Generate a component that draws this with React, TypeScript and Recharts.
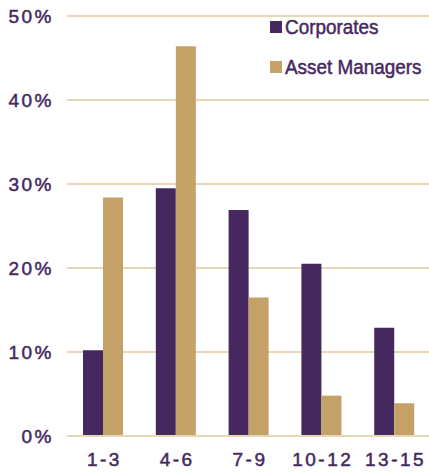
import React from "react";
import { BarChart, Bar, XAxis, YAxis, CartesianGrid } from "recharts";

const categories = ["1-3", "4-6", "7-9", "10-12", "13-15"];
const corporates = [10.2, 29.5, 26.9, 20.5, 12.9];
const assetManagers = [28.4, 46.4, 16.5, 4.8, 3.9];
const yTicks = [0, 10, 20, 30, 40, 50];

const data = categories.map((c, i) => ({
  name: c,
  corporates: corporates[i],
  assetManagers: assetManagers[i],
}));

const PURPLE = "#45295E";
const GOLD = "#C4A267";
const GRID = "#E6D8B4";
const FONT = "'Liberation Sans', Arial, sans-serif";

const YTick = (props: any) => {
  const { x, y, payload } = props;
  return (
    <text x={x} y={y} dy={7} textAnchor="end" fill={PURPLE} stroke={PURPLE} strokeWidth={0.5} fontSize={19} fontFamily={FONT} letterSpacing={2.5}>
      {payload.value + "%"}
    </text>
  );
};

const XTick = (props: any) => {
  const { x, y, payload } = props;
  return (
    <text x={x + 1} y={y} dy={28} textAnchor="middle" fill={PURPLE} stroke={PURPLE} strokeWidth={0.5} fontSize={19} fontFamily={FONT} letterSpacing={2.5}>
      {payload.value}
    </text>
  );
};

export default function App() {
  return (
    <div style={{ position: "fixed", left: 0, top: 0, width: 429, height: 473, overflow: "hidden", background: "#fff" }}>
      <BarChart
        width={431}
        height={473}
        data={data}
        margin={{ top: 16, right: 0, bottom: 0, left: 0 }}
        barCategoryGap="22%"
        barGap={0}
      >
        <CartesianGrid vertical={false} stroke={GRID} strokeWidth={2} />
        <XAxis dataKey="name" height={37} axisLine={{ stroke: GRID, strokeWidth: 2 }} tickLine={false} tickSize={0} tick={<XTick />} interval={0} />
        <YAxis
          width={67}
          domain={[0, 50]}
          ticks={yTicks}
          axisLine={false}
          tickLine={false}
          tickSize={0}
          tickMargin={13}
          tick={<YTick />}
        />
        <Bar dataKey="corporates" fill={PURPLE} isAnimationActive={false} />
        <Bar dataKey="assetManagers" fill={GOLD} isAnimationActive={false} />
      </BarChart>
      <div style={{ position: "absolute", left: 270, top: 15, fontFamily: FONT, fontSize: 21, color: PURPLE, whiteSpace: "nowrap", WebkitTextStroke: "0.5px " + PURPLE }}>
        <div style={{ display: "flex", alignItems: "center", height: 24 }}>
          <span style={{ width: 12, height: 12, background: PURPLE, marginRight: 3, display: "inline-block", flex: "none" }} />
          <span style={{ display: "inline-block", transform: "scaleX(0.9)", transformOrigin: "left center" }}>Corporates</span>
        </div>
        <div style={{ display: "flex", alignItems: "center", height: 24, marginTop: 16 }}>
          <span style={{ width: 12, height: 12, background: GOLD, marginRight: 3, display: "inline-block", flex: "none" }} />
          <span style={{ display: "inline-block", transform: "scaleX(0.9)", transformOrigin: "left center" }}>Asset Managers</span>
        </div>
      </div>
    </div>
  );
}
